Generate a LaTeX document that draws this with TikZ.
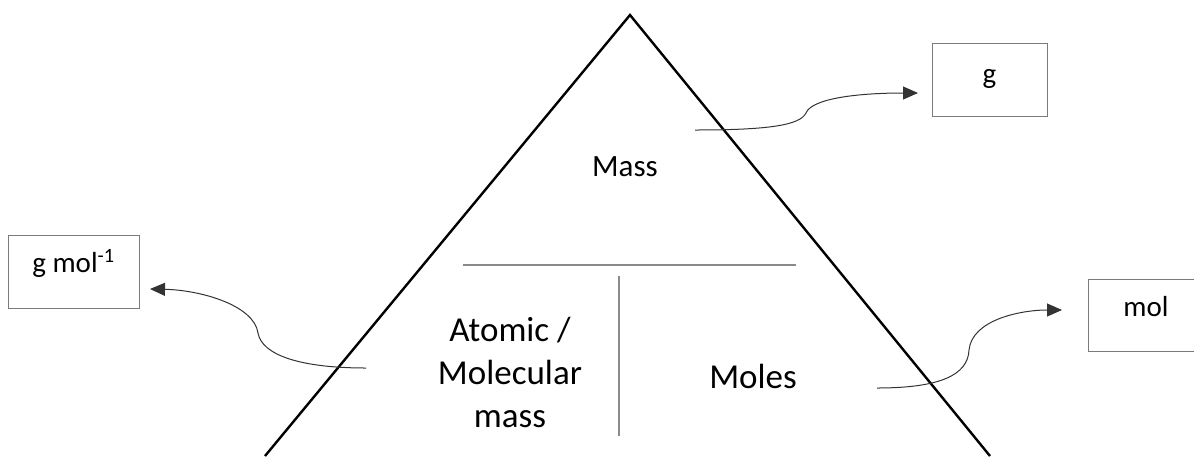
\documentclass[tikz,border=0pt]{standalone}
\usepackage{fontspec}
\setmainfont{Carlito}
\usetikzlibrary{arrows.meta}
\definecolor{divgray}{HTML}{8A8A8A}
\definecolor{boxgray}{HTML}{7A7A7A}
\definecolor{arrgray}{HTML}{333333}
\tikzset{
  unitbox/.style={draw=boxgray, line width=1.4pt, minimum width=115pt, minimum height=73pt, anchor=north west, inner sep=0pt},
  unittext/.style={anchor=base, inner sep=0pt, font=\fontsize{29}{34}\selectfont},
  bigtext/.style={inner sep=0pt, font=\fontsize{35}{43}\selectfont, align=center},
  divider/.style={draw=divgray, line width=2pt},
  side/.style={draw=black, line width=2.4pt, line join=miter},
  curvearrow/.style={draw=arrgray, line width=1pt, -{Triangle[length=15pt,width=13pt]}}
}
\begin{document}
\begin{tikzpicture}[x=1pt,y=-1pt]
\useasboundingbox (0,0) rectangle (1194,456);
\clip (0,0) rectangle (1194,456);
% triangle
\coordinate (tl) at (265,456);
\coordinate (apex) at (630,15);
\coordinate (tr) at (990,456);
\draw[side] (tl) -- (apex) -- (tr);
% dividers
\coordinate (h1) at (463,265);
\coordinate (h2) at (796,265);
\coordinate (v1) at (619,276);
\coordinate (v2) at (619,436);
\draw[divider] (h1) -- (h2);
\draw[divider] (v1) -- (v2);
% texts
\node[anchor=base, inner sep=0pt, font=\fontsize{31}{37}\selectfont] (mass) at (625,176) {Mass};
\node[bigtext, anchor=base] (amm) at (510,427) {Atomic /\\Molecular\\mass};
\node[bigtext, anchor=base] (moles) at (753,388) {Moles};
% unit boxes
\node[unitbox] (gbox) at (932,43) {};
\node[unittext] (gtext) at (989.5,83) {g};
\node[unitbox, minimum width=131pt] (gmbox) at (8,235) {};
\node[unittext] (gmtext) at (73.5,272) {g mol\textsuperscript{-1}};
\node[unitbox, minimum height=72pt] (molbox) at (1088,279) {};
\node[unittext] (moltext) at (1146,316) {mol};
% connectors
\coordinate (s1) at (695,130);
\coordinate (t1) at (918,93);
\draw[curvearrow] (s1) .. controls (770,130) and (800,125) .. (806,113)
  .. controls (812,98) and (860,93) .. (t1);
\coordinate (s2) at (366,368);
\coordinate (t2) at (150,289);
\draw[curvearrow] (s2) .. controls (300,368) and (262,355) .. (258,333)
  .. controls (254,305) and (200,290) .. (t2);
\coordinate (s3) at (877,388);
\coordinate (t3) at (1062,310);
\draw[curvearrow] (s3) .. controls (940,388) and (968,375) .. (969,350)
  .. controls (972,320) and (1020,310) .. (t3);
\end{tikzpicture}
\end{document}
